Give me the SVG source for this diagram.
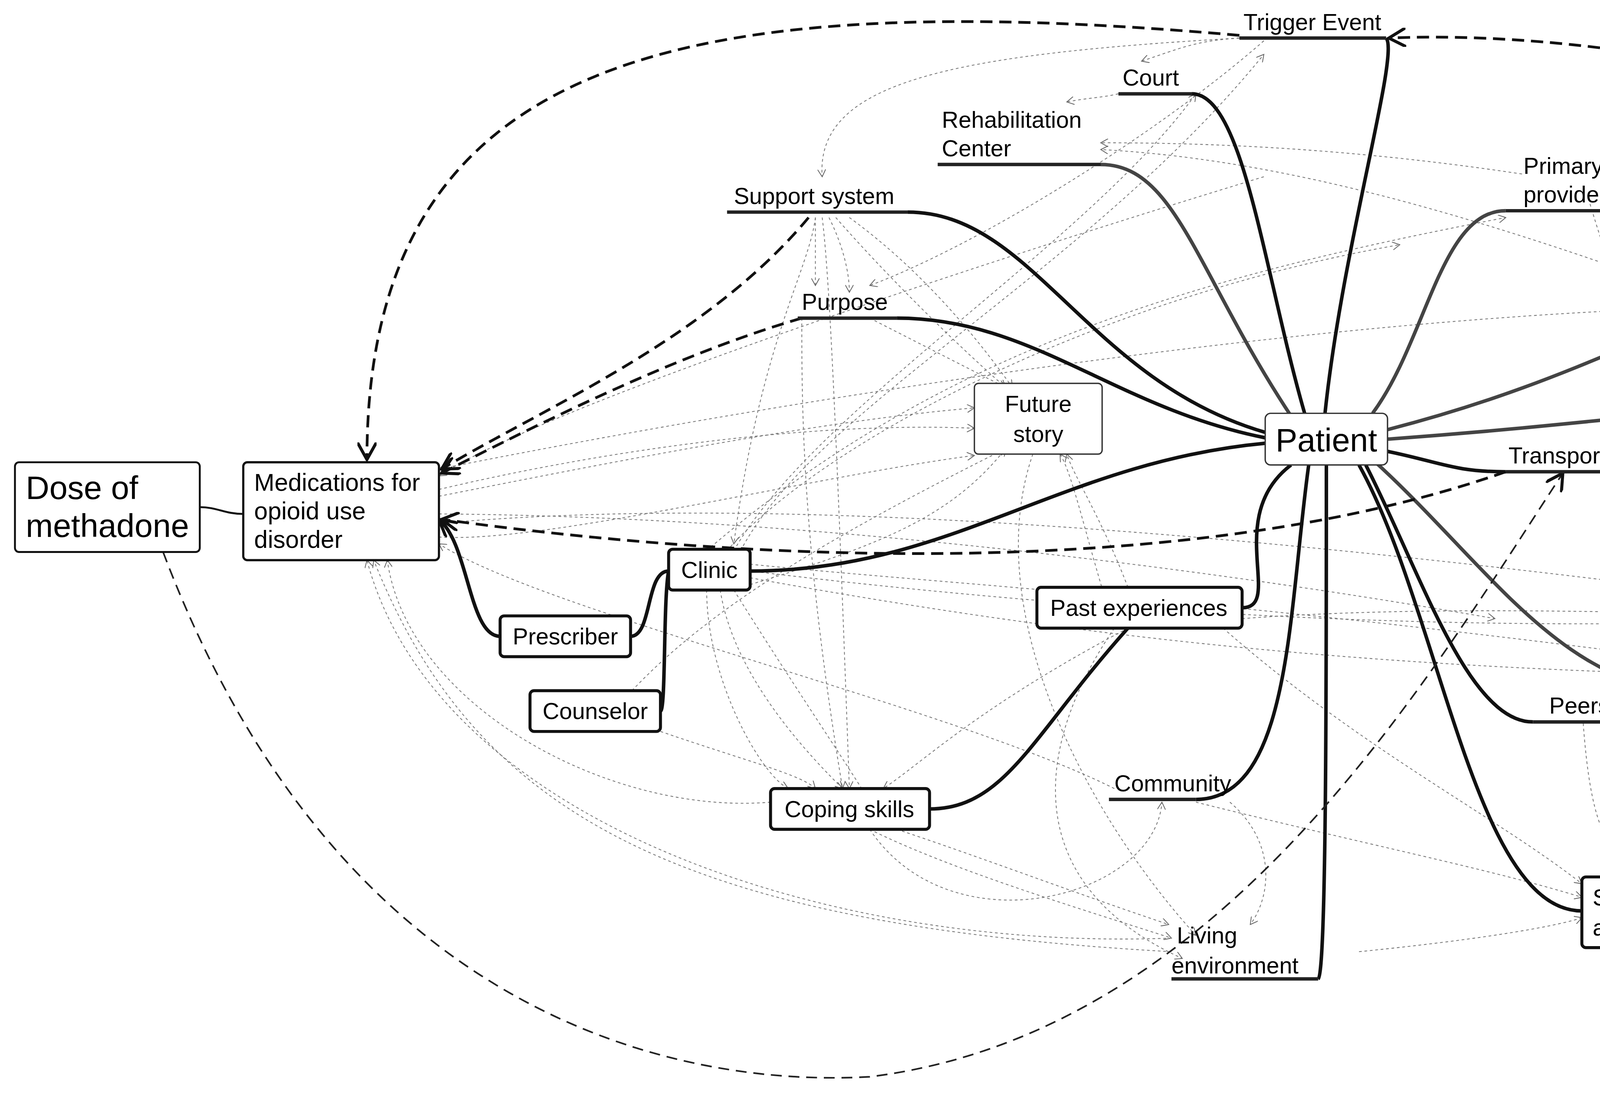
<svg xmlns="http://www.w3.org/2000/svg" width="5455" height="2802" viewBox="0 0 5455 2802">
<style>
.t{font-family:"Liberation Sans",Arial,sans-serif;font-size:17px;fill:#000}
.box{fill:#fff;stroke:#111;stroke-width:2.2}
.thin{fill:#fff;stroke:#333;stroke-width:1}
.ul{fill:none;stroke:#222;stroke-width:2.5}
.m{fill:none;stroke:#111;stroke-width:2.6}
.g{fill:none;stroke:#444;stroke-width:2.6}
.d{fill:none;stroke:#111;stroke-width:2;stroke-dasharray:9 5}
.dt{fill:none;stroke:#222;stroke-width:1.2;stroke-dasharray:8 5}
.s{fill:none;stroke:#777;stroke-width:0.6;stroke-dasharray:2 2}
</style>
<defs>
<marker id="a" markerUnits="userSpaceOnUse" markerWidth="14" markerHeight="14" refX="9" refY="5" orient="auto" viewBox="0 0 10 10"><path d="M0,0 L9,5 L0,10" fill="none" stroke="#111" stroke-width="1.6"/></marker>
<marker id="as" markerUnits="userSpaceOnUse" markerWidth="6" markerHeight="6" refX="9" refY="5" orient="auto" viewBox="0 0 10 10"><path d="M0,0 L9,5 L0,10" fill="none" stroke="#666" stroke-width="1"/></marker>
</defs>
<rect width="5455" height="2802" fill="#fff"/>
<g transform="scale(3.479)">
<g id="connectors">
<g class="s" marker-end="url(#as)">
<path d="M912,28 C880,30 870,35 840,45"/>
<path d="M823,69 C810,72 800,72 785,75"/>
<path d="M912,28 C700,40 600,60 605,130"/>
<path d="M930,30 C850,100 720,180 640,210"/>
<path d="M1120,128 C1000,110 900,105 810,105"/>
<path d="M1390,270 C1200,200 1000,120 810,110"/>
<path d="M600,160 C595,200 560,250 540,400"/>
<path d="M605,160 C610,200 615,300 625,580"/>
<path d="M610,160 C620,180 625,200 625,215"/>
<path d="M600,160 L600,210"/>
<path d="M615,160 C650,200 700,250 740,285"/>
<path d="M625,160 C680,200 720,250 745,285"/>
<path d="M640,234 L740,285"/>
<path d="M590,234 C590,300 590,400 620,580"/>
<path d="M323,365 C450,340 600,310 717,300"/>
<path d="M323,360 C450,330 600,310 717,315"/>
<path d="M323,395 C400,400 600,350 717,335"/>
<path d="M545,405 C600,300 800,200 930,40"/>
<path d="M540,405 C600,300 800,180 880,69"/>
<path d="M535,405 C600,330 800,220 1030,180"/>
<path d="M520,405 C700,250 900,200 1108,160"/>
<path d="M465,508 C520,450 600,400 740,330"/>
<path d="M552,430 C650,400 700,380 740,330"/>
<path d="M1595,260 C1400,180 800,250 323,345"/>
<path d="M820,462 C800,400 790,350 780,334"/>
<path d="M830,432 C810,380 790,350 785,334"/>
<path d="M760,334 C720,450 800,600 880,688"/>
<path d="M930,130 C700,200 400,300 323,350"/>
<path d="M552,420 C800,450 1100,470 1400,452"/>
<path d="M552,425 C800,470 1000,490 1275,497"/>
<path d="M552,415 C700,430 900,440 1275,490"/>
<path d="M323,385 C600,360 1000,400 1400,455"/>
<path d="M914,455 C1050,445 1200,450 1400,455"/>
<path d="M323,378 C600,380 900,420 1100,455"/>
<path d="M1180,150 C1200,250 1250,400 1300,490"/>
<path d="M1170,150 C1200,250 1260,400 1295,490"/>
<path d="M1415,210 C1400,300 1350,400 1300,490"/>
<path d="M1425,300 C1400,350 1350,430 1305,490"/>
<path d="M1310,500 C1340,490 1370,475 1410,465"/>
<path d="M1290,510 C1270,530 1240,535 1190,525"/>
<path d="M1190,505 C1170,490 1220,490 1275,495"/>
<path d="M1300,510 L1240,645"/>
<path d="M1165,532 C1170,600 1180,630 1210,645"/>
<path d="M1180,530 C1220,580 1230,620 1220,645"/>
<path d="M1000,700 C1100,690 1150,680 1164,675"/>
<path d="M880,590 C1000,620 1100,640 1164,660"/>
<path d="M900,462 C1000,550 1100,600 1164,650"/>
<path d="M905,590 C940,620 935,660 920,680"/>
<path d="M520,434 C520,500 560,570 580,580"/>
<path d="M530,434 C540,500 600,560 620,580"/>
<path d="M540,434 C600,530 650,600 650,610"/>
<path d="M486,538 C550,560 590,570 600,580"/>
<path d="M640,610 C700,640 800,670 862,690"/>
<path d="M660,610 C720,630 800,660 860,680"/>
<path d="M640,610 C700,700 850,660 855,590"/>
<path d="M820,580 C700,520 400,450 323,400"/>
<path d="M567,590 C450,600 300,520 285,412"/>
<path d="M862,690 C600,700 320,600 270,412"/>
<path d="M862,700 C500,680 350,600 275,412"/>
<path d="M830,462 C720,520 680,560 650,580"/>
<path d="M820,462 C760,550 750,650 870,705"/>
</g>
<path class="m" d="M975,304 C988,180 1030,40 1020,28"/>
<path class="m" d="M960,304 C930,200 915,69 877,69"/>
<path class="g" d="M950,306 C880,200 865,121 810,121"/>
<path class="m" d="M931,318 C800,280 760,156 668,156"/>
<path class="m" d="M931,322 C820,300 760,234 660,234"/>
<path class="m" d="M931,326 C780,340 700,420 552,420"/>
<path class="m" d="M950,342 C900,380 945,447 914,447"/>
<path class="m" d="M963,342 C948,450 950,588 880,588"/>
<path class="m" d="M976,342 C976,500 976,715 970,720"/>
<path class="m" d="M1005,342 C1045,420 1080,531 1128,531"/>
<path class="m" d="M1000,342 C1060,450 1085,670 1164,670"/>
<path class="g" d="M1010,338 C1100,420 1150,511 1260,511 L1360,511 C1380,511 1380,464 1400,464"/>
<path class="m" d="M1021,332 C1060,340 1070,347 1108,347"/>
<path class="g" d="M1021,323 C1200,310 1250,297 1370,297"/>
<path class="g" d="M1021,316 C1200,270 1250,211 1370,211"/>
<path class="g" d="M1010,304 C1050,250 1060,155 1108,155"/>
<path class="m" d="M830,462 C760,540 740,595 684,595"/>
<path class="m" d="M492,420 C475,420 480,468 464,468"/>
<path class="m" d="M492,420 C488,440 490,523 486,523"/>
<path class="m" d="M368,468 C345,468 345,400 323,382" marker-end="url(#a)"/>
<path class="m" style="stroke-width:1.4" d="M147,373 C160,373 165,378 179,378"/>
<path class="d" d="M912,26 C500,-10 270,40 270,338" marker-end="url(#a)"/>
<path class="d" d="M1250,645 C1450,480 1580,300 1555,220 C1520,80 1200,20 1022,28" marker-end="url(#a)"/>
<path class="d" d="M595,160 C520,250 400,300 325,345" marker-end="url(#a)"/>
<path class="d" d="M590,234 C500,260 400,310 325,348" marker-end="url(#a)"/>
<path class="d" d="M1108,347 C900,420 600,420 325,382" marker-end="url(#a)"/>
<path class="dt" d="M120,406 C250,750 500,800 640,792 C900,760 1050,500 1150,348" marker-end="url(#a)"/>
</g>
<g id="n-trigger"><path class="ul" d="M912,28 H1020"/><text class="t" x="915" y="22">Trigger Event</text></g>
<g id="n-court"><path class="ul" d="M823,69 H877"/><text class="t" x="826" y="63">Court</text></g>
<g id="n-rehab"><path class="ul" d="M690,121 H810"/><text class="t" x="693" y="94">Rehabilitation</text><text class="t" x="693" y="115">Center</text></g>
<g id="n-primary"><path class="ul" d="M1108,155 H1230"/><text class="t" x="1121" y="128">Primary care</text><text class="t" x="1121" y="149">provider</text></g>
<g id="n-support"><path class="ul" d="M535,156 H668"/><text class="t" x="540" y="150">Support system</text></g>
<g id="n-specialist"><path class="ul" d="M1370,211 H1465"/><text class="t" x="1384" y="205">Specialist</text></g>
<g id="n-purpose"><path class="ul" d="M587,234 H660"/><text class="t" x="590" y="228">Purpose</text></g>
<g id="n-hospital"><path class="ul" d="M1370,297 H1470"/><text class="t" x="1400" y="291">Hospital</text></g>
<g id="n-future"><rect class="thin" x="717" y="282" width="94" height="52" rx="3"/><text class="t" x="764" y="303" text-anchor="middle">Future</text><text class="t" x="764" y="325" text-anchor="middle">story</text></g>
<g id="n-patient"><rect class="thin" x="931" y="304" width="90" height="38" rx="4"/><text class="t" x="976" y="332" text-anchor="middle" style="font-size:24px">Patient</text></g>
<g id="n-transport"><path class="ul" d="M1108,347 H1228"/><text class="t" x="1110" y="341">Transportation</text></g>
<g id="n-dose"><rect class="box" style="stroke-width:1.4" x="11" y="340" width="136" height="66" rx="3"/><text class="t" x="19" y="367" style="font-size:24px">Dose of</text><text class="t" x="19" y="395" style="font-size:24px">methadone</text></g>
<g id="n-meds"><rect class="box" style="stroke-width:1.6" x="179" y="340" width="144" height="72" rx="3"/><text class="t" x="187" y="361" style="font-size:18px">Medications for</text><text class="t" x="187" y="382" style="font-size:18px">opioid use</text><text class="t" x="187" y="403" style="font-size:18px">disorder</text></g>
<g id="n-clinic"><rect class="box" x="492" y="404" width="60" height="30" rx="3"/><text class="t" x="522" y="425" text-anchor="middle">Clinic</text></g>
<g id="n-past"><rect class="box" x="763" y="432" width="151" height="30" rx="3"/><text class="t" x="838" y="453" text-anchor="middle">Past experiences</text></g>
<g id="n-pharmacist"><path class="ul" d="M1395,464 H1500"/><text class="t" x="1407" y="458">Pharmacist</text></g>
<g id="n-prescriber"><rect class="box" x="368" y="453" width="96" height="30" rx="3"/><text class="t" x="416" y="474" text-anchor="middle">Prescriber</text></g>
<g id="n-pharmacy"><text class="t" x="1276" y="504">Pharmacy</text></g>
<g id="n-peers"><path class="ul" d="M1128,531 H1190"/><text class="t" x="1140" y="525">Peers</text></g>
<g id="n-counselor"><rect class="box" x="390" y="508" width="96" height="30" rx="3"/><text class="t" x="438" y="529" text-anchor="middle">Counselor</text></g>
<g id="n-community"><path class="ul" d="M816,588 H880"/><text class="t" x="820" y="582">Community</text></g>
<g id="n-coping"><rect class="box" x="567" y="580" width="117" height="30" rx="3"/><text class="t" x="625" y="601" text-anchor="middle">Coping skills</text></g>
<g id="n-substance"><rect class="box" x="1164" y="645" width="125" height="52" rx="3"/><text class="t" x="1172" y="666">Substance of</text><text class="t" x="1172" y="688">abuse</text></g>
<g id="n-living"><path class="ul" d="M862,720 H970"/><text class="t" x="866" y="694">Living</text><text class="t" x="862" y="716">environment</text></g>
</g>
</svg>
